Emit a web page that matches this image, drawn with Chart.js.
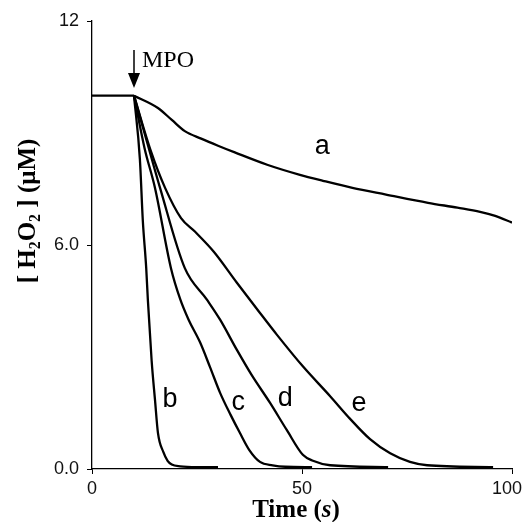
<!DOCTYPE html>
<html>
<head>
<meta charset="utf-8">
<script src="https://cdn.jsdelivr.net/npm/chart.js@4/dist/chart.umd.min.js"></script>
<style>
  html, body { margin: 0; padding: 0; background: #fff; }
</style>
</head>
<body>
<canvas id="chart" width="522" height="522"></canvas>
<script>
// axis ticks
const xTicks = [0, 50, 100];
const yTicks = [0, 6, 12];
const yTickLabels = ['0.0', '6.0', '12'];

// baseline before MPO addition
const baseT = [0, 10];
const baseH = [10, 10];

// curve a
const tA = [10, 15.7, 19, 22.1, 26, 30, 34, 41.7, 49.5, 55, 62, 70, 80, 87, 92.4, 96, 100];
const hA = [10, 9.67, 9.35, 9.05, 8.85, 8.66, 8.48, 8.15, 7.88, 7.72, 7.53, 7.35, 7.13, 7.0, 6.89, 6.78, 6.6];
// curve b
const tB = [10, 11.4, 12.1, 12.9, 13.3, 14.2, 15, 15.7, 17, 18, 19, 21, 25, 30];
const hB = [10, 8.3, 6.65, 5.4, 4.53, 2.9, 1.85, 0.97, 0.45, 0.22, 0.12, 0.07, 0.05, 0.05];
// curve c
const tC = [10, 12.5, 15, 18.8, 21, 23, 25.7, 28.1, 30.5, 33, 35.2, 37.5, 40, 43, 46, 52.4];
const hC = [10, 8.6, 7.53, 5.38, 4.55, 4.0, 3.4, 2.73, 2.04, 1.45, 0.97, 0.5, 0.19, 0.1, 0.06, 0.05];
// curve d
const tD = [10, 13, 16.2, 22.1, 27.4, 30.5, 34.5, 38, 42.4, 46.4, 50.2, 52.6, 56.7, 70.5];
const hD = [10, 8.8, 7.53, 5.38, 4.53, 4.0, 3.19, 2.52, 1.77, 1.04, 0.38, 0.22, 0.1, 0.05];
// curve e
const tE = [10, 14, 17.4, 21.2, 24.5, 29, 34.5, 40, 44, 50.2, 56.7, 61.4, 66.2, 71, 75.7, 79.8, 95.5];
const hE = [10, 8.52, 7.53, 6.72, 6.36, 5.82, 4.99, 4.18, 3.6, 2.75, 1.95, 1.35, 0.8, 0.42, 0.19, 0.1, 0.05];

// curve letters
const letters = ['a', 'b', 'c', 'd', 'e'];
const letterT = [54.8, 18.6, 34.8, 46, 63.6];
const letterH = [8.63, 1.85, 1.77, 1.88, 1.74];

// MPO addition time
const mpoT = 10;

const pts = (t, h) => t.map((x, i) => ({ x: x, y: h[i] }));
const curve = (t, h) => ({
    data: pts(t, h),
    borderColor: '#000',
    borderWidth: 2.3,
    pointRadius: 0,
    fill: false,
    cubicInterpolationMode: 'monotone'
});

const sans = '"Liberation Sans", Arial, sans-serif';
const serif = '"Liberation Serif", "Times New Roman", serif';

// tick labels on x, titles, letters, MPO arrow
const extras = {
    id: 'extras',
    afterDraw: (chart) => {
        const ctx = chart.ctx;
        const xs = chart.scales.x, ys = chart.scales.y;
        ctx.save();
        ctx.fillStyle = '#000';
        ctx.strokeStyle = '#000';

        // x tick labels, kept inside the canvas
        ctx.font = '18px ' + sans;
        ctx.fillStyle = '#111';
        ctx.textAlign = 'center';
        ctx.textBaseline = 'middle';
        xTicks.forEach(v => {
            const w = ctx.measureText(String(v)).width;
            let px = xs.getPixelForValue(v);
            if (px + w / 2 > chart.width) px = chart.width - w / 2;
            ctx.fillText(String(v), px, 489);
        });
        ctx.fillStyle = '#000';

        // curve letters
        ctx.font = '27px ' + sans;
        letters.forEach((l, i) => {
            ctx.fillText(l, xs.getPixelForValue(letterT[i]), ys.getPixelForValue(letterH[i]));
        });

        // MPO arrow
        const ax = xs.getPixelForValue(mpoT);
        ctx.lineWidth = 1.5;
        ctx.beginPath(); ctx.moveTo(ax, 50); ctx.lineTo(ax, 76); ctx.stroke();
        ctx.beginPath(); ctx.moveTo(ax - 6, 73); ctx.lineTo(ax + 6, 73); ctx.lineTo(ax, 88); ctx.closePath(); ctx.fill();
        ctx.font = '24px ' + serif;
        ctx.textAlign = 'left';
        ctx.textBaseline = 'alphabetic';
        ctx.fillText('MPO', ax + 8, 67);

        // x title: Time (s)
        const bold = 'bold 25px ' + serif;
        const boldIt = 'italic bold 25px ' + serif;
        const parts = [['Time (', bold], ['s', boldIt], [')', bold]];
        let w = 0;
        parts.forEach(p => { ctx.font = p[1]; w += ctx.measureText(p[0]).width; });
        let x0 = 296 - w / 2;
        parts.forEach(p => { ctx.font = p[1]; ctx.fillText(p[0], x0, 517); x0 += ctx.measureText(p[0]).width; });

        // y title: [ H2O2 ] (μM)
        const sub = 'bold 16px ' + serif;
        const yParts = [['[ H', bold, 0], ['2', sub, 5], ['O', bold, 0], ['2', sub, 5], [' ] (\u03bcM)', bold, 0]];
        w = 0;
        yParts.forEach(p => { ctx.font = p[1]; w += ctx.measureText(p[0]).width; });
        ctx.translate(35, 211);
        ctx.rotate(-Math.PI / 2);
        x0 = -w / 2;
        yParts.forEach(p => { ctx.font = p[1]; ctx.fillText(p[0], x0, p[2]); x0 += ctx.measureText(p[0]).width; });
        ctx.restore();
    }
};

new Chart(document.getElementById('chart'), {
    type: 'line',
    data: {
        datasets: [
            curve(baseT, baseH),
            curve(tA, hA),
            curve(tB, hB),
            curve(tC, hC),
            curve(tD, hD),
            curve(tE, hE)
        ]
    },
    options: {
        responsive: false,
        animation: false,
        layout: { padding: { top: 21, right: 10, left: 0, bottom: 0 } },
        plugins: { legend: { display: false }, tooltip: { enabled: false } },
        scales: {
            x: {
                type: 'linear',
                min: 0, max: 100,
                afterBuildTicks: s => { s.ticks = xTicks.map(v => ({ value: v })); },
                afterFit: s => { s.height = 53; s.paddingLeft = 0; s.paddingRight = 0; },
                grid: { drawOnChartArea: false, color: '#000', tickLength: 5 },
                border: { color: '#000', width: 1.3 },
                ticks: { display: false }
            },
            y: {
                min: 0, max: 12,
                afterBuildTicks: s => { s.ticks = yTicks.map(v => ({ value: v })); },
                afterFit: s => { s.width = 92; s.paddingTop = 0; s.paddingBottom = 0; },
                grid: { drawOnChartArea: false, color: '#000', tickLength: 5 },
                border: { color: '#000', width: 1.3 },
                ticks: {
                    color: '#111', padding: 8,
                    font: { family: sans, size: 18 },
                    callback: v => yTickLabels[yTicks.indexOf(v)]
                }
            }
        }
    },
    plugins: [extras]
});
</script>
</body>
</html>
